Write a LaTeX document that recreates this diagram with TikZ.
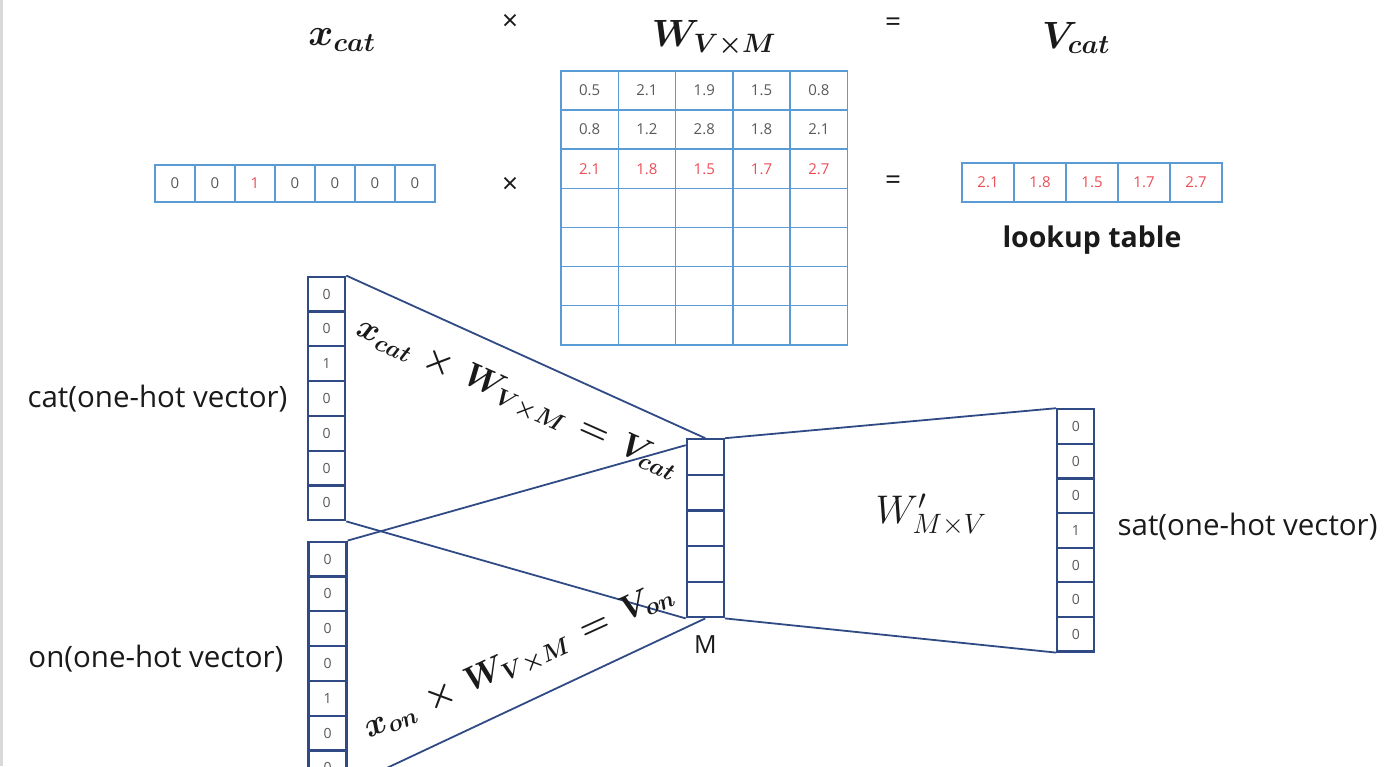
\RequirePackage{fix-cm}
\documentclass[tikz,border=0pt]{standalone}
\usepackage[no-math]{fontspec}
\setmainfont{Open Sans}
\usepackage{bm}
\usetikzlibrary{positioning}
\definecolor{cellblue}{HTML}{5B9BD5}
\definecolor{navy}{HTML}{2F4A84}
\definecolor{numgray}{HTML}{595959}
\definecolor{numred}{HTML}{EE4B55}
\definecolor{textdark}{HTML}{1A1A1A}
\definecolor{edgegray}{HTML}{D9D9D9}

\begin{document}
\begin{tikzpicture}[x=1pt, y=-1pt,
  bcell/.style={draw=cellblue, line width=1.6pt, inner sep=0pt, font=\fontsize{15}{15}\selectfont},
  ncell/.style={draw=navy, line width=2.2pt, inner sep=0pt, minimum width=37, text=numgray, font=\fontsize{14}{14}\selectfont},
  nline/.style={navy, line width=1.8pt},
  lbl/.style={text=textdark, font=\fontsize{29.5}{29.5}\selectfont},
  eq/.style={text=textdark, font=\fontsize{38}{38}\selectfont},
  op/.style={text=textdark, font=\fontsize{28}{28}\selectfont}]
\useasboundingbox (0,0) rectangle (1386,766);
\fill[edgegray] (0,0) rectangle (2.5,766);

\node[eq] (xcat) at (342,40) {$\bm{x_{cat}}$};
\node[op] (times1) at (510,22) {×};
\node[eq] (wvm) at (714,38) {$\bm{W_{V\times M}}$};
\node[op] (eq1) at (893,25) {=};
\node[eq] (vcat) at (1076,38) {$\bm{V_{cat}}$};

\foreach \v/\c [count=\i] in {0/numgray,0/numgray,1/numred,0/numgray,0/numgray,0/numgray,0/numgray}
  \node[bcell, minimum width=40, minimum height=37, text=\c] (h\i) at (135+40*\i, 183.5) {\v};
\node[op] (times2) at (510,185) {×};

\foreach \r in {1,...,7}
  \foreach \c in {1,...,5}
    \node[bcell, minimum width=57.3, minimum height=39.1] (w-\r-\c) at (532.35+57.3*\c, 51.45+39.1*\r) {};
\foreach \v [count=\c] in {0.5,2.1,1.9,1.5,0.8}
  \node[text=numgray, font=\fontsize{15}{15}\selectfont] (v-1-\c) at (w-1-\c) {\v};
\foreach \v [count=\c] in {0.8,1.2,2.8,1.8,2.1}
  \node[text=numgray, font=\fontsize{15}{15}\selectfont] (v-2-\c) at (w-2-\c) {\v};
\foreach \v [count=\c] in {2.1,1.8,1.5,1.7,2.7}
  \node[text=numred, font=\fontsize{15}{15}\selectfont] (v-3-\c) at (w-3-\c) {\v};

\node[op] (eq2) at (893,183) {=};
\foreach \v [count=\i] in {2.1,1.8,1.5,1.7,2.7}
  \node[bcell, minimum width=52, minimum height=39, text=numred] (l\i) at (936+52*\i, 182.5) {\v};
\node[text=textdark, font=\fontsize{28.5}{28.5}\selectfont\bfseries] (lookup) at (1092,240) {lookup table};

\foreach \v [count=\i] in {0,0,1,0,0,0,0}
  \node[ncell, minimum height=34.8] (c\i) at (326.7, 259.3+34.8*\i) {\v};
\foreach \v [count=\i] in {0,0,0,0,1,0,0}
  \node[ncell, minimum width=38, minimum height=34.8] (o\i) at (327.5, 524.3+34.8*\i) {\v};
\foreach \i in {1,...,5}
  \node[ncell, minimum height=35.6] (m\i) at (705.3, 421.5+35.6*\i) {};
\foreach \v [count=\i] in {0,0,0,1,0,0,0}
  \node[ncell, minimum height=34.6] (s\i) at (1075.8, 392+34.6*\i) {\v};

\node[lbl, anchor=east] (catlbl) at (291,399) {cat(one-hot vector)};
\node[lbl, anchor=east] (onlbl) at (287,659) {on(one-hot vector)};
\node[lbl, anchor=west] (satlbl) at (1114,527) {sat(one-hot vector)};
\node[lbl, font=\fontsize{25}{25}\selectfont, below=14pt of m5] (mlbl) {M};

\draw[nline] (c1.north east) -- (m1.north);
\draw[nline] (c7.south east) -- (m5.south west);
\draw[nline] (o1.north east) -- ([yshift=-7pt]m1.north west);
\draw[nline] (o7.south east) -- (m5.south);
\draw[nline] (m1.north east) -- (s1.north west);
\draw[nline] (m5.south east) -- (s7.south west);

\node[eq, font=\fontsize{34}{34}\selectfont, rotate=-24] (eqcat) at (517,399) {$\bm{x_{cat}\,\times\,W_{V\times M}\,=\,V_{cat}}$};
\node[eq, font=\fontsize{34}{34}\selectfont, rotate=24.5] (eqon) at (519,662) {$\bm{x_{on}\,\times\,W_{V\times M}\,=\,V_{on}}$};
\node[text=textdark, font=\fontsize{40}{40}\selectfont] (wout) at (931,515) {$W'_{M\times V}$};
\end{tikzpicture}
\end{document}
